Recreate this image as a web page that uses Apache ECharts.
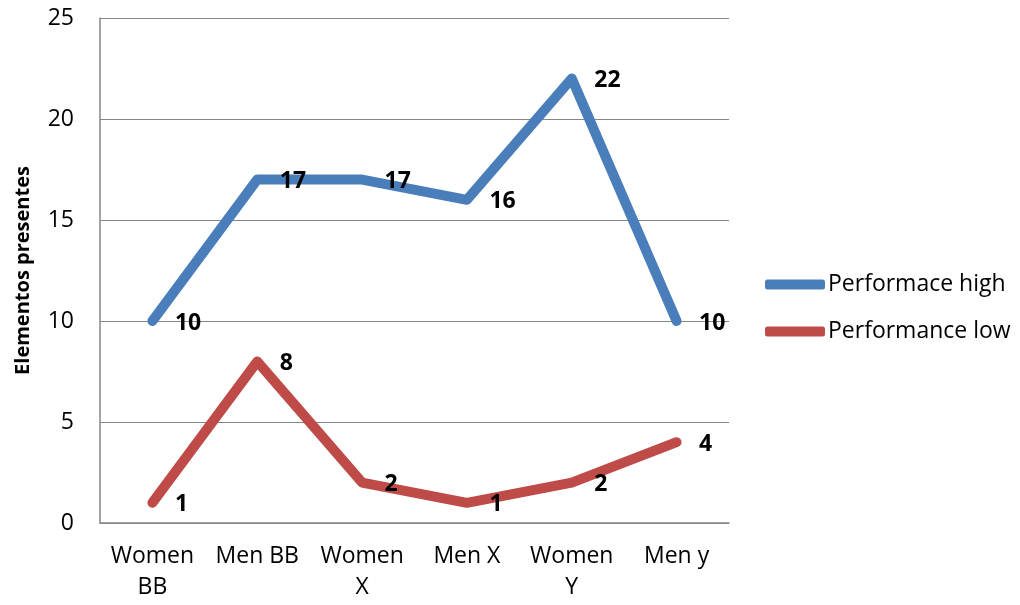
<!DOCTYPE html>
<html><head><meta charset="utf-8">
<script src="https://cdn.jsdelivr.net/npm/echarts@6/dist/echarts.min.js"></script>
<style>html,body{margin:0;padding:0;background:#fff}#c{width:1020px;height:605px}</style>
</head><body><div id="c"></div>
<script>
const categories = ["Women BB", "Men BB", "Women X", "Men X", "Women Y", "Men y"];
const highValues = [10, 17, 17, 16, 22, 10];
const lowValues = [1, 8, 2, 1, 2, 4];
const seriesNames = ["Performace high", "Performance low"];
const yTicks = [0, 5, 10, 15, 20, 25];
const FONT = "'Open Sans', sans-serif";

const chart = echarts.init(document.getElementById('c'));
const labelCfg = {
  show: true, position: 'right', distance: 22, offset: [0, 2],
  color: '#000', fontWeight: 'bold', fontSize: 23, fontFamily: FONT
};
function mk(name, data, color) {
  return {
    name, type: 'line', data,
    symbol: 'circle', symbolSize: 1, showSymbol: true,
    itemStyle: { color: 'rgba(0,0,0,0)', borderWidth: 0 },
    lineStyle: { color, width: 10, cap: 'round', join: 'round' },
    label: labelCfg, emphasis: { disabled: true }, animation: false
  };
}
chart.setOption({
  animation: false,
  grid: { left: 100, top: 18, width: 629, height: 505, containLabel: false },
  legend: {
    orient: 'vertical', left: 760, top: 268, itemGap: 24,
    itemWidth: 60, itemHeight: 10, icon: 'roundRect',
    textStyle: { fontSize: 23, color: '#000', fontFamily: FONT, padding: [0, 0, 0, -2] },
    data: [
      { name: seriesNames[0], itemStyle: { color: '#4a7ebb' } },
      { name: seriesNames[1], itemStyle: { color: '#be4b48' } }
    ]
  },
  xAxis: {
    type: 'category', data: categories, boundaryGap: true,
    axisLine: { lineStyle: { color: '#868686', width: 1.5 } },
    axisTick: { show: false },
    axisLabel: {
      color: '#000', fontSize: 23, fontFamily: FONT, margin: 18, lineHeight: 31,
      interval: 0,
      formatter: v => v.startsWith('Women ') ? v.replace(' ', '\n') : v
    }
  },
  yAxis: {
    type: 'value', min: yTicks[0], max: yTicks[yTicks.length - 1], interval: 5,
    name: 'Elementos presentes', nameLocation: 'middle', nameGap: 67,
    nameTextStyle: { fontSize: 20, fontWeight: 'bold', color: '#000', fontFamily: FONT },
    axisLine: { show: true, lineStyle: { color: '#868686', width: 1.5 } },
    axisTick: { show: false },
    splitLine: { lineStyle: { color: '#868686', width: 1.2 } },
    axisLabel: { color: '#000', fontSize: 23, fontFamily: FONT, margin: 26 }
  },
  series: [mk(seriesNames[0], highValues, '#4a7ebb'), mk(seriesNames[1], lowValues, '#be4b48')]
});
</script></body></html>
